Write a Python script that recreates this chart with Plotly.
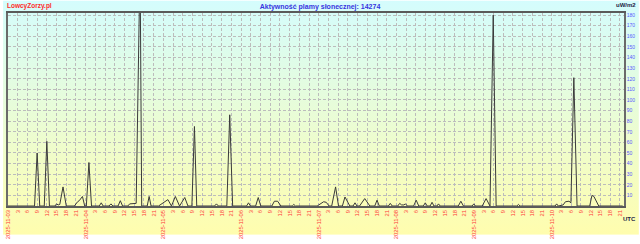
import base64
import pandas as pd
import plotly.graph_objects as go

# ---- data ----
start = "2025-11-03 00:00"
hours = [0, 8.2, 9.0, 9.8, 11.2, 12.0, 12.8, 14.5, 15.0, 15.5, 16.0, 17.0, 18.0,
         20.5, 21.5, 22.0, 23.0, 23.7, 24.2, 25.0, 25.8, 28.2, 28.8, 29.4,
         31.2, 31.8, 32.4, 34.0, 34.7, 35.4, 37.0, 37.6, 39.6, 40.8, 41.3,
         43.0, 43.6, 44.2, 46.5, 47.5, 49.4, 50.5, 51.7, 53.0, 54.6, 55.6,
         56.8, 57.6, 58.3, 63.8, 64.4, 65.0, 67.6, 68.5, 69.4, 73.7, 74.3, 74.9,
         76.5, 77.3, 78.1, 81.5, 82.3, 83.3, 84.3, 87.8, 88.3, 88.8,
         95.5, 96.0, 97.5, 98.3, 99.2, 100.0, 101.2, 102.1,
         103.3, 104.1, 105.0, 105.6, 106.6, 107.2, 107.8, 108.6, 110.2, 111.8,
         113.3, 114.0, 114.7, 117.5, 118.1, 118.7,
         120.4, 121.0, 121.6, 122.3, 122.8, 123.4, 125.3, 126.1, 126.9,
         128.3, 128.9, 129.5, 130.4, 131.0, 131.6, 132.5, 133.0, 133.5,
         139.1, 139.9, 140.7, 143.4, 143.9, 144.4,
         146.5, 147.7, 148.9, 149.9, 150.8, 157.2, 157.7, 158.2,
         169.0, 169.5, 170.0, 171.5, 172.2, 173.3, 173.9, 174.8, 175.8,
         179.7, 180.4, 181.0, 182.5, 189.9]
flux = [0, 0, 50, 0, 0, 61, 0, 0, 2, 1, 1.5, 18, 0,
        0, 4, 5, 9, 0, 0, 41, 0, 0, 3, 0,
        0, 2, 0, 0, 5, 0, 0, 2, 2.5, 230, 0,
        0, 9, 0, 0, 2, 6, 0, 9, 0, 8, 0,
        0, 75, 0, 0, 2, 0, 0, 86, 0, 0, 3, 0,
        0, 8, 0, 0, 4.5, 4.5, 0, 0, 1.5, 0,
        0, 1, 4, 3.5, 0, 0, 18, 0,
        0, 8.5, 3, 0, 0, 3, 0, 0, 7, 0,
        0, 5.5, 0, 0, 2.5, 0,
        0, 2.5, 1, 1, 2, 0, 0, 5.5, 0,
        0, 3, 0, 0, 3.5, 0, 0, 2, 0,
        0, 4.5, 0, 0, 2, 0,
        0, 7, 0, 180, 0, 0, 1.5, 0,
        0, 2, 0, 1, 4, 4.5, 3, 121, 0,
        0, 10, 9, 0, 0]
assert len(hours) == len(flux)
ytick_vals = list(range(10, 190, 10))
x_end_hours = 190.3

# ---- figure ----
t0 = pd.Timestamp(start)
x = [t0 + pd.Timedelta(hours=h) for h in hours]

tickvals, ticktext = [], []
for h in range(0, 190, 3):
    t = t0 + pd.Timedelta(hours=h)
    tickvals.append(t)
    ticktext.append(t.strftime("%Y-%m-%d") if h % 24 == 0 else str(h % 24))

W, H = 640, 244
ml, mr, mt, mb = 5, 15, 13, 30
pw, ph = W - ml - mr, H - mt - mb

def px(xp):
    return (xp - ml) / pw

def py(yp):
    return (H - mb - yp) / ph

svg = ('<svg xmlns="http://www.w3.org/2000/svg" width="10" height="244" '
       'preserveAspectRatio="none"><defs><linearGradient id="g" x1="0" y1="0" '
       'x2="0" y2="1"><stop offset="0" stop-color="#d4fcfd"/>'
       '<stop offset="1" stop-color="#fffdae"/></linearGradient></defs>'
       '<rect width="10" height="244" fill="url(#g)"/></svg>')
src = "data:image/svg+xml;base64," + base64.b64encode(svg.encode()).decode()

fig = go.Figure()
fig.add_trace(go.Scatter(x=x, y=flux, mode="lines",
                         line=dict(color="#3a3a3a", width=1),
                         hoverinfo="x+y", showlegend=False))

font = "Liberation Sans, Arial, sans-serif"
fig.update_layout(
    width=W, height=H,
    margin=dict(l=ml, r=mr, t=mt, b=mb, pad=0),
    paper_bgcolor="rgba(0,0,0,0)", plot_bgcolor="rgba(0,0,0,0)",
    font=dict(family=font),
    images=[dict(source=src, xref="paper", yref="paper",
                 x=px(0), y=py(0), sizex=W / pw, sizey=H / ph,
                 xanchor="left", yanchor="top", sizing="stretch",
                 layer="below")],
    title=dict(text="<b>Aktywność plamy słonecznej: 14274</b>",
               x=0.5, xref="container", xanchor="center",
               y=1 - 6.5 / H, yref="container", yanchor="middle",
               font=dict(size=7, color="#3535e0", family=font)),
    xaxis=dict(type="date",
               range=[t0, t0 + pd.Timedelta(hours=x_end_hours)],
               tickmode="array", tickvals=tickvals, ticktext=ticktext,
               tickangle=-90, tickfont=dict(size=5.8, color="#ff3838"),
               ticks="", showgrid=True, gridcolor="#bcbcbc", gridwidth=1,
               griddash="3px,2px", showline=True, linecolor="#5a5a5a",
               linewidth=1.5, mirror=True, zeroline=False, fixedrange=True),
    yaxis=dict(range=[0, 182], side="right", tickmode="array",
               tickvals=ytick_vals, ticktext=[str(v) for v in ytick_vals],
               tickfont=dict(size=5, color="#5858ff"), ticks="",
               showgrid=True, gridcolor="#bcbcbc", gridwidth=1,
               griddash="3px,2px", showline=True, linecolor="#6a6a6a",
               linewidth=1.5, mirror=True, zeroline=False, fixedrange=True),
    annotations=[
        dict(text="<b>LowcyZorzy.pl</b>", xref="paper", yref="paper",
             x=px(2), y=py(6), xanchor="left", yanchor="middle",
             showarrow=False, font=dict(size=6.5, color="#ff2a2a", family=font)),
        dict(text="<b>uW/m2</b>", xref="paper", yref="paper",
             x=px(639), y=py(4.5), xanchor="right", yanchor="middle",
             showarrow=False, font=dict(size=6, color="#222244", family=font)),
        dict(text="<b>UTC</b>", xref="paper", yref="paper",
             x=px(639), y=py(228), xanchor="right", yanchor="middle",
             showarrow=False, font=dict(size=6, color="#222244", family=font)),
    ],
)

fig.write_html("out.html")
